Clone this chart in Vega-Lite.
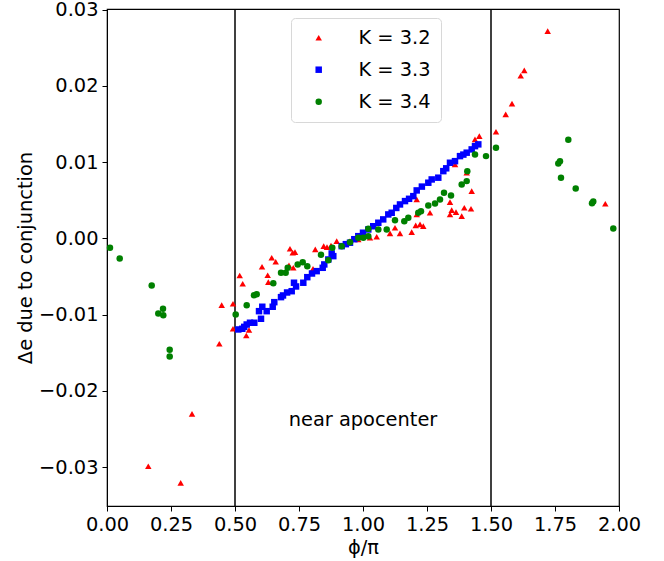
{
  "$schema": "https://vega.github.io/schema/vega-lite/v6.json",
  "autosize": "none",
  "width": 512,
  "height": 497,
  "padding": {"left": 107, "top": 9, "right": 45, "bottom": 55},
  "background": "white",
  "config": {
    "font": "DejaVu Sans",
    "view": {"stroke": "#000", "strokeWidth": 1.2},
    "axis": {"grid": false, "domainColor": "#000", "tickColor": "#000", "labelColor": "#000", "titleColor": "#000", "labelFontSize": 19.4, "titleFontSize": 19.4, "titleFontWeight": "normal", "tickSize": 5, "labelPadding": 4, "labelFlush": false, "labelOverlap": false},
    "legend": {"labelFontSize": 19.4, "labelColor": "#000"}
  },
  "datasets": {
    "pts": [
      {"K": "K = 3.2", "phi": 0.1613, "de": -0.02988},
      {"K": "K = 3.2", "phi": 0.2879, "de": -0.03206},
      {"K": "K = 3.2", "phi": 0.3320, "de": -0.02301},
      {"K": "K = 3.2", "phi": 0.4387, "de": -0.01382},
      {"K": "K = 3.2", "phi": 0.4480, "de": -0.00875},
      {"K": "K = 3.2", "phi": 0.4922, "de": -0.00857},
      {"K": "K = 3.2", "phi": 0.4922, "de": -0.01185},
      {"K": "K = 3.2", "phi": 0.5184, "de": -0.00486},
      {"K": "K = 3.2", "phi": 0.5301, "de": -0.00594},
      {"K": "K = 3.2", "phi": 0.5441, "de": -0.01273},
      {"K": "K = 3.2", "phi": 0.5547, "de": -0.01201},
      {"K": "K = 3.2", "phi": 0.6055, "de": -0.00371},
      {"K": "K = 3.2", "phi": 0.6277, "de": -0.00482},
      {"K": "K = 3.2", "phi": 0.6301, "de": -0.00573},
      {"K": "K = 3.2", "phi": 0.6434, "de": -0.00253},
      {"K": "K = 3.2", "phi": 0.6590, "de": -0.00306},
      {"K": "K = 3.2", "phi": 0.7148, "de": -0.00135},
      {"K": "K = 3.2", "phi": 0.7254, "de": -0.00188},
      {"K": "K = 3.2", "phi": 0.7344, "de": -0.00180},
      {"K": "K = 3.2", "phi": 0.7277, "de": -0.00385},
      {"K": "K = 3.2", "phi": 0.7109, "de": -0.00354},
      {"K": "K = 3.2", "phi": 0.8137, "de": -0.00144},
      {"K": "K = 3.2", "phi": 0.8465, "de": -0.00101},
      {"K": "K = 3.2", "phi": 0.8594, "de": -0.00114},
      {"K": "K = 3.2", "phi": 0.8750, "de": -0.00092},
      {"K": "K = 3.2", "phi": 0.8047, "de": -0.00398},
      {"K": "K = 3.2", "phi": 0.8973, "de": -0.00035},
      {"K": "K = 3.2", "phi": 0.9492, "de": -0.00035},
      {"K": "K = 3.2", "phi": 0.9816, "de": -0.00013},
      {"K": "K = 3.2", "phi": 1.0273, "de": 0.00009},
      {"K": "K = 3.2", "phi": 1.0535, "de": 0.00022},
      {"K": "K = 3.2", "phi": 1.1055, "de": 0.00066},
      {"K": "K = 3.2", "phi": 1.1250, "de": 0.00140},
      {"K": "K = 3.2", "phi": 1.1445, "de": 0.00066},
      {"K": "K = 3.2", "phi": 1.1902, "de": 0.00083},
      {"K": "K = 3.2", "phi": 1.2059, "de": 0.00171},
      {"K": "K = 3.2", "phi": 1.2227, "de": 0.00184},
      {"K": "K = 3.2", "phi": 1.2355, "de": 0.00161},
      {"K": "K = 3.2", "phi": 1.2098, "de": 0.00315},
      {"K": "K = 3.2", "phi": 1.2617, "de": 0.00337},
      {"K": "K = 3.2", "phi": 1.2098, "de": 0.00512},
      {"K": "K = 3.2", "phi": 1.3398, "de": 0.00476},
      {"K": "K = 3.2", "phi": 1.3398, "de": 0.00315},
      {"K": "K = 3.2", "phi": 1.3465, "de": 0.00371},
      {"K": "K = 3.2", "phi": 1.3633, "de": 0.00345},
      {"K": "K = 3.2", "phi": 1.3855, "de": 0.00293},
      {"K": "K = 3.2", "phi": 1.3957, "de": 0.00403},
      {"K": "K = 3.2", "phi": 1.4219, "de": 0.00390},
      {"K": "K = 3.2", "phi": 1.4246, "de": 0.00621},
      {"K": "K = 3.2", "phi": 1.4051, "de": 0.00862},
      {"K": "K = 3.2", "phi": 1.3594, "de": 0.00971},
      {"K": "K = 3.2", "phi": 1.4375, "de": 0.01299},
      {"K": "K = 3.2", "phi": 1.4543, "de": 0.01343},
      {"K": "K = 3.2", "phi": 1.5195, "de": 0.01400},
      {"K": "K = 3.2", "phi": 1.5574, "de": 0.01627},
      {"K": "K = 3.2", "phi": 1.5820, "de": 0.01768},
      {"K": "K = 3.2", "phi": 1.6160, "de": 0.02135},
      {"K": "K = 3.2", "phi": 1.6301, "de": 0.02205},
      {"K": "K = 3.2", "phi": 1.7215, "de": 0.02720},
      {"K": "K = 3.2", "phi": 1.9465, "de": 0.00455},
      {"K": "K = 3.3", "phi": 0.5129, "de": -0.01194},
      {"K": "K = 3.3", "phi": 0.5285, "de": -0.01185},
      {"K": "K = 3.3", "phi": 0.5360, "de": -0.01160},
      {"K": "K = 3.3", "phi": 0.5457, "de": -0.01129},
      {"K": "K = 3.3", "phi": 0.5586, "de": -0.01106},
      {"K": "K = 3.3", "phi": 0.5754, "de": -0.01106},
      {"K": "K = 3.3", "phi": 0.5938, "de": -0.00954},
      {"K": "K = 3.3", "phi": 0.6016, "de": -0.01054},
      {"K": "K = 3.3", "phi": 0.6066, "de": -0.00896},
      {"K": "K = 3.3", "phi": 0.6238, "de": -0.00954},
      {"K": "K = 3.3", "phi": 0.6473, "de": -0.00896},
      {"K": "K = 3.3", "phi": 0.6535, "de": -0.00836},
      {"K": "K = 3.3", "phi": 0.6797, "de": -0.00770},
      {"K": "K = 3.3", "phi": 0.6875, "de": -0.00748},
      {"K": "K = 3.3", "phi": 0.7035, "de": -0.00709},
      {"K": "K = 3.3", "phi": 0.7215, "de": -0.00692},
      {"K": "K = 3.3", "phi": 0.7305, "de": -0.00581},
      {"K": "K = 3.3", "phi": 0.7385, "de": -0.00630},
      {"K": "K = 3.3", "phi": 0.7668, "de": -0.00581},
      {"K": "K = 3.3", "phi": 0.7824, "de": -0.00508},
      {"K": "K = 3.3", "phi": 0.8008, "de": -0.00460},
      {"K": "K = 3.3", "phi": 0.8191, "de": -0.00429},
      {"K": "K = 3.3", "phi": 0.8426, "de": -0.00385},
      {"K": "K = 3.3", "phi": 0.8488, "de": -0.00341},
      {"K": "K = 3.3", "phi": 0.8645, "de": -0.00276},
      {"K": "K = 3.3", "phi": 0.8777, "de": -0.00197},
      {"K": "K = 3.3", "phi": 0.8840, "de": -0.00232},
      {"K": "K = 3.3", "phi": 0.9168, "de": -0.00101},
      {"K": "K = 3.3", "phi": 0.9330, "de": -0.00075},
      {"K": "K = 3.3", "phi": 0.9492, "de": -0.00056},
      {"K": "K = 3.3", "phi": 0.9660, "de": -0.00010},
      {"K": "K = 3.3", "phi": 0.9816, "de": 0.00030},
      {"K": "K = 3.3", "phi": 1.0000, "de": 0.00075},
      {"K": "K = 3.3", "phi": 1.0207, "de": 0.00118},
      {"K": "K = 3.3", "phi": 1.0400, "de": 0.00160},
      {"K": "K = 3.3", "phi": 1.0598, "de": 0.00206},
      {"K": "K = 3.3", "phi": 1.0790, "de": 0.00250},
      {"K": "K = 3.3", "phi": 1.0988, "de": 0.00315},
      {"K": "K = 3.3", "phi": 1.1121, "de": 0.00337},
      {"K": "K = 3.3", "phi": 1.1300, "de": 0.00400},
      {"K": "K = 3.3", "phi": 1.1445, "de": 0.00446},
      {"K": "K = 3.3", "phi": 1.1641, "de": 0.00490},
      {"K": "K = 3.3", "phi": 1.1800, "de": 0.00520},
      {"K": "K = 3.3", "phi": 1.1965, "de": 0.00555},
      {"K": "K = 3.3", "phi": 1.2098, "de": 0.00630},
      {"K": "K = 3.3", "phi": 1.2300, "de": 0.00680},
      {"K": "K = 3.3", "phi": 1.2551, "de": 0.00731},
      {"K": "K = 3.3", "phi": 1.2684, "de": 0.00774},
      {"K": "K = 3.3", "phi": 1.2941, "de": 0.00797},
      {"K": "K = 3.3", "phi": 1.3137, "de": 0.00883},
      {"K": "K = 3.3", "phi": 1.3250, "de": 0.00920},
      {"K": "K = 3.3", "phi": 1.3398, "de": 0.00993},
      {"K": "K = 3.3", "phi": 1.3594, "de": 0.01014},
      {"K": "K = 3.3", "phi": 1.3789, "de": 0.01080},
      {"K": "K = 3.3", "phi": 1.3920, "de": 0.01100},
      {"K": "K = 3.3", "phi": 1.4051, "de": 0.01125},
      {"K": "K = 3.3", "phi": 1.4246, "de": 0.01168},
      {"K": "K = 3.3", "phi": 1.4375, "de": 0.01211},
      {"K": "K = 3.3", "phi": 1.4504, "de": 0.01234},
      {"K": "K = 3.4", "phi": 0.0117, "de": -0.00122},
      {"K": "K = 3.4", "phi": 0.0496, "de": -0.00262},
      {"K": "K = 3.4", "phi": 0.1746, "de": -0.00617},
      {"K": "K = 3.4", "phi": 0.2188, "de": -0.00923},
      {"K": "K = 3.4", "phi": 0.2004, "de": -0.00984},
      {"K": "K = 3.4", "phi": 0.2199, "de": -0.01007},
      {"K": "K = 3.4", "phi": 0.2449, "de": -0.01461},
      {"K": "K = 3.4", "phi": 0.2449, "de": -0.01549},
      {"K": "K = 3.4", "phi": 0.5027, "de": -0.00997},
      {"K": "K = 3.4", "phi": 0.5457, "de": -0.00875},
      {"K": "K = 3.4", "phi": 0.5742, "de": -0.00744},
      {"K": "K = 3.4", "phi": 0.5848, "de": -0.00731},
      {"K": "K = 3.4", "phi": 0.6496, "de": -0.00587},
      {"K": "K = 3.4", "phi": 0.6797, "de": -0.00450},
      {"K": "K = 3.4", "phi": 0.6980, "de": -0.00450},
      {"K": "K = 3.4", "phi": 0.7059, "de": -0.00385},
      {"K": "K = 3.4", "phi": 0.7449, "de": -0.00341},
      {"K": "K = 3.4", "phi": 0.7645, "de": -0.00311},
      {"K": "K = 3.4", "phi": 0.7824, "de": -0.00364},
      {"K": "K = 3.4", "phi": 0.8359, "de": -0.00214},
      {"K": "K = 3.4", "phi": 0.8645, "de": -0.00285},
      {"K": "K = 3.4", "phi": 0.8801, "de": -0.00122},
      {"K": "K = 3.4", "phi": 0.9168, "de": -0.00101},
      {"K": "K = 3.4", "phi": 0.9492, "de": -0.00049},
      {"K": "K = 3.4", "phi": 0.9816, "de": 0.00009},
      {"K": "K = 3.4", "phi": 1.0012, "de": 0.00009},
      {"K": "K = 3.4", "phi": 1.0207, "de": 0.00030},
      {"K": "K = 3.4", "phi": 1.0207, "de": 0.00127},
      {"K": "K = 3.4", "phi": 1.0598, "de": 0.00118},
      {"K": "K = 3.4", "phi": 1.0926, "de": 0.00118},
      {"K": "K = 3.4", "phi": 1.1250, "de": 0.00240},
      {"K": "K = 3.4", "phi": 1.1613, "de": 0.00227},
      {"K": "K = 3.4", "phi": 1.1770, "de": 0.00272},
      {"K": "K = 3.4", "phi": 1.2160, "de": 0.00337},
      {"K": "K = 3.4", "phi": 1.2266, "de": 0.00358},
      {"K": "K = 3.4", "phi": 1.2551, "de": 0.00433},
      {"K": "K = 3.4", "phi": 1.2813, "de": 0.00459},
      {"K": "K = 3.4", "phi": 1.3008, "de": 0.00512},
      {"K": "K = 3.4", "phi": 1.3164, "de": 0.00600},
      {"K": "K = 3.4", "phi": 1.3438, "de": 0.00564},
      {"K": "K = 3.4", "phi": 1.3855, "de": 0.00709},
      {"K": "K = 3.4", "phi": 1.4051, "de": 0.00752},
      {"K": "K = 3.4", "phi": 1.4074, "de": 0.00883},
      {"K": "K = 3.4", "phi": 1.4375, "de": 0.01102},
      {"K": "K = 3.4", "phi": 1.4805, "de": 0.01080},
      {"K": "K = 3.4", "phi": 1.5195, "de": 0.01190},
      {"K": "K = 3.4", "phi": 1.8020, "de": 0.01295},
      {"K": "K = 3.4", "phi": 1.7695, "de": 0.01014},
      {"K": "K = 3.4", "phi": 1.7629, "de": 0.00984},
      {"K": "K = 3.4", "phi": 1.7734, "de": 0.00797},
      {"K": "K = 3.4", "phi": 1.8309, "de": 0.00656},
      {"K": "K = 3.4", "phi": 1.8996, "de": 0.00486},
      {"K": "K = 3.4", "phi": 1.8945, "de": 0.00463},
      {"K": "K = 3.4", "phi": 1.9777, "de": 0.00131}
    ],
    "vlines": [{"phi": 0.5}, {"phi": 1.5}],
    "notes": [{"phi": 1.0, "de": -0.0238, "label": "near apocenter"}]
  },
  "layer": [
    {
      "data": {"name": "vlines"},
      "mark": {"type": "rule", "color": "#000", "strokeWidth": 1.5},
      "encoding": {"x": {"field": "phi", "type": "quantitative", "scale": {"domain": [0, 2]}}}
    },
    {
      "data": {"name": "pts"},
      "mark": {"type": "point", "filled": true, "opacity": 1, "size": 42},
      "encoding": {
        "x": {"field": "phi", "type": "quantitative", "scale": {"domain": [0, 2], "nice": false, "zero": false},
              "axis": {"title": "ϕ/π", "values": [0, 0.25, 0.5, 0.75, 1, 1.25, 1.5, 1.75, 2], "format": ".2f", "titlePadding": 5}},
        "y": {"field": "de", "type": "quantitative", "scale": {"domain": [-0.0351, 0.0301], "nice": false, "zero": false},
              "axis": {"title": "Δe due to conjunction", "values": [-0.03, -0.02, -0.01, 0, 0.01, 0.02, 0.03], "format": ".2f", "titlePadding": 3}},
        "shape": {"field": "K", "type": "nominal", "scale": {"domain": ["K = 3.2", "K = 3.3", "K = 3.4"], "range": ["triangle-up", "square", "circle"]},
                  "legend": {"title": null, "orient": "none", "legendX": 184, "legendY": 9, "symbolSize": 42, "rowPadding": 11, "padding": 10, "strokeColor": "#d8d8d8", "fillColor": "white", "cornerRadius": 4, "labelOffset": 30, "symbolOffset": 8, "offset": 0}},
        "color": {"field": "K", "type": "nominal", "scale": {"domain": ["K = 3.2", "K = 3.3", "K = 3.4"], "range": ["#ff0000", "#0000ff", "#008000"]},
                  "legend": {"title": null, "orient": "none", "legendX": 184, "legendY": 9, "symbolSize": 42, "rowPadding": 11, "padding": 10, "strokeColor": "#d8d8d8", "fillColor": "white", "cornerRadius": 4, "labelOffset": 30, "symbolOffset": 8, "offset": 0}}
      }
    },
    {
      "data": {"name": "notes"},
      "mark": {"type": "text", "fontSize": 19.4, "color": "#000", "align": "center", "baseline": "middle"},
      "encoding": {
        "x": {"field": "phi", "type": "quantitative"},
        "y": {"field": "de", "type": "quantitative"},
        "text": {"field": "label"}
      }
    }
  ]
}
